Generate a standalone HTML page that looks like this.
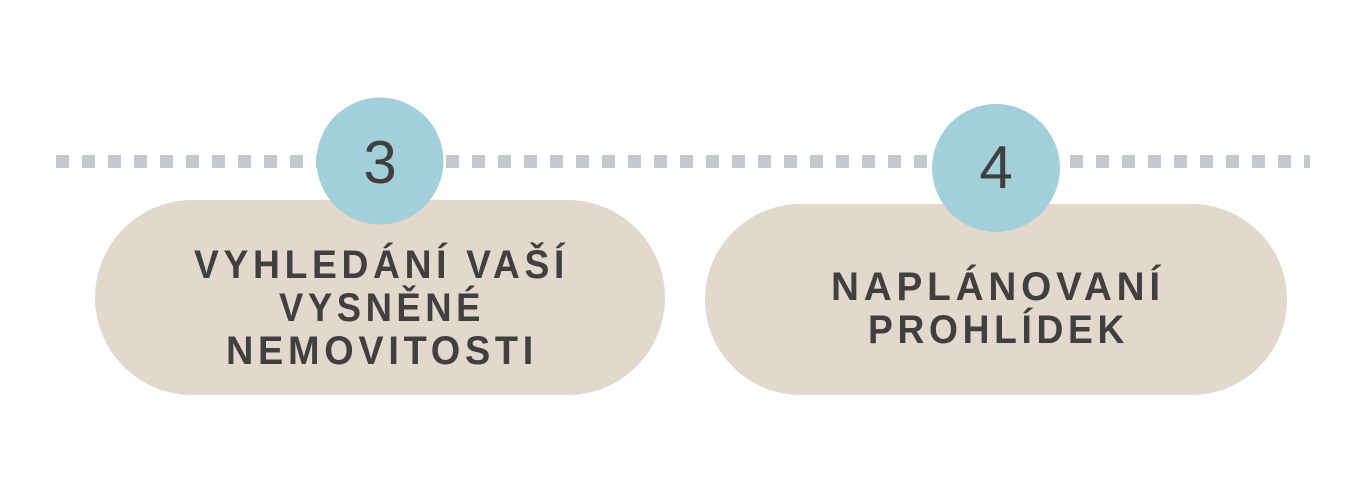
<!DOCTYPE html>
<html><head><meta charset="utf-8"><style>
html,body{margin:0;padding:0;background:#fff;}
svg{display:block;}
</style></head><body>
<svg width="1366" height="494" viewBox="0 0 1366 494" xmlns="http://www.w3.org/2000/svg">
<defs>
<pattern id="d" x="56" y="0" width="26" height="494" patternUnits="userSpaceOnUse">
<rect x="0" y="155" width="13" height="13" fill="#c4c9d0"/>
</pattern>
</defs>
<rect x="56" y="155" width="1254" height="13" fill="url(#d)"/>
<rect x="95" y="200" width="570" height="195" rx="97.5" fill="#e2d8cc"/>
<rect x="705" y="204" width="582" height="191" rx="95.5" fill="#e2d8cc"/>
<circle cx="380" cy="161" r="63.5" fill="#a2cfd9"/>
<circle cx="996" cy="168" r="64" fill="#a2cfd9"/>
<g font-family="Liberation Sans, sans-serif" fill="#404040" text-anchor="middle">
<text x="380" y="183" font-size="60">3</text>
<text x="996" y="188" font-size="60">4</text>
</g>
<g font-family="Liberation Sans, sans-serif" font-weight="bold" fill="#404040" font-size="40" letter-spacing="5">
<text x="194" y="278" textLength="375" lengthAdjust="spacingAndGlyphs">VYHLEDÁNÍ VAŠÍ</text>
<text x="279" y="321" textLength="206" lengthAdjust="spacingAndGlyphs">VYSNĚNÉ</text>
<text x="226" y="364" textLength="312" lengthAdjust="spacingAndGlyphs">NEMOVITOSTI</text>
<text x="831" y="300" textLength="334" lengthAdjust="spacingAndGlyphs">NAPLÁNOVANÍ</text>
<text x="868" y="343" textLength="261" lengthAdjust="spacingAndGlyphs">PROHLÍDEK</text>
</g>
</svg>
</body></html>
